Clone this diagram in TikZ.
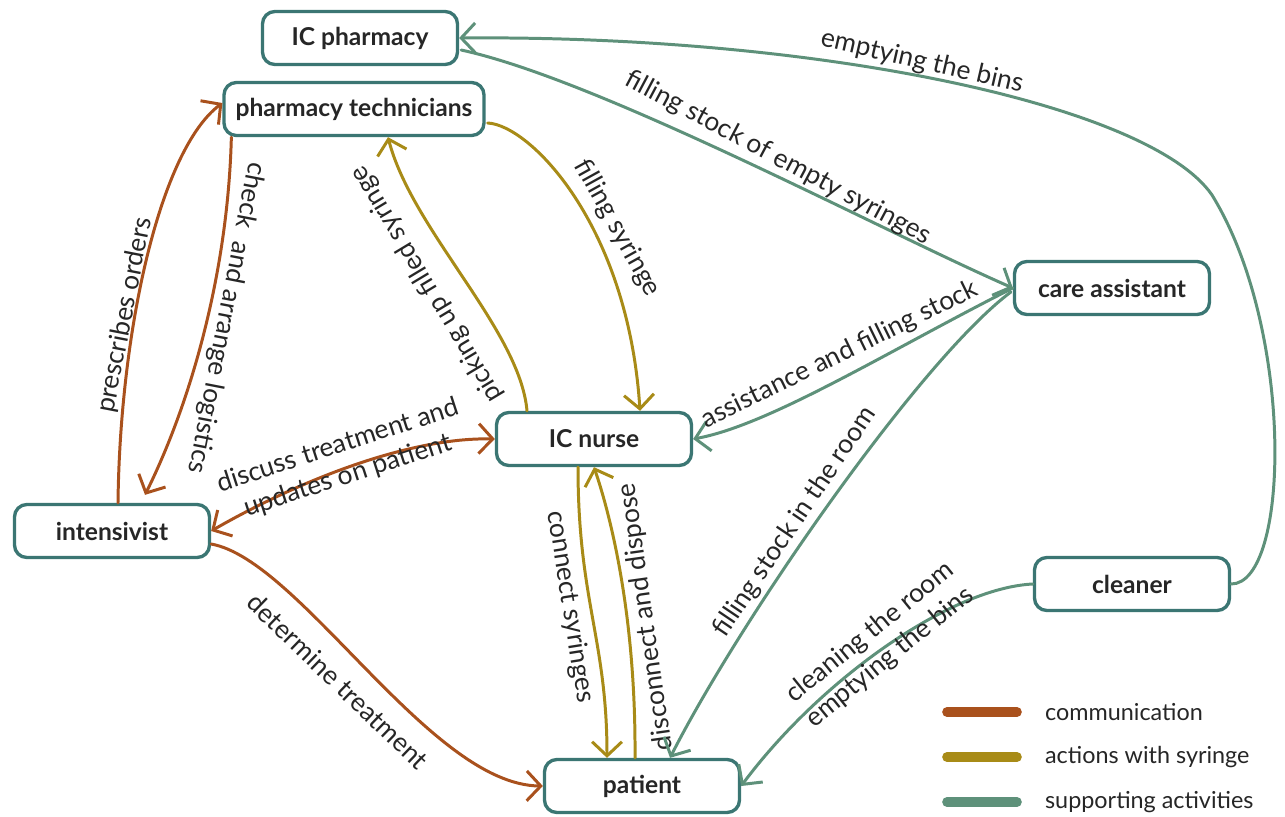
\documentclass[tikz,border=0pt]{standalone}
\usepackage{fontspec}
\setmainfont{Lato}
\usetikzlibrary{arrows.meta,calc}
\definecolor{commcol}{HTML}{A9511D}
\definecolor{syrcol}{HTML}{A88B17}
\definecolor{suppcol}{HTML}{5E917A}
\definecolor{boxcol}{HTML}{3B7673}
\definecolor{txtcol}{HTML}{262626}
\begin{document}
\begin{tikzpicture}[x=0.02cm,y=-0.02cm,
	>={Straight Barb[length=8pt,width=17pt]},
	box/.style={draw=boxcol,line width=1.9pt,rounded corners=7pt,fill=white,minimum width=3.9cm,minimum height=1.06cm,text=txtcol,font=\fontsize{14}{17}\selectfont\bfseries},
	lbl/.style={text=txtcol,inner sep=1pt,align=center,font=\fontsize{15}{18}\selectfont},
	keylbl/.style={text=txtcol,inner sep=1pt,anchor=west,font=\fontsize{13.3}{16}\selectfont},
	comm/.style={draw=commcol,line width=1.7pt,line cap=round,->},
	syr/.style={draw=syrcol,line width=1.7pt,line cap=round,->},
	supp/.style={draw=suppcol,line width=1.7pt,line cap=round,->},
	key/.style={line width=5.5pt,line cap=round}]
	\useasboundingbox (0,0) rectangle (1285,816);

	\node[box] (icph) at (360,38) {IC pharmacy};
	\node[box,minimum width=5.2cm] (tech) at (354,109) {pharmacy technicians};
	\node[box] (care) at (1112,288) {care assistant};
	\node[box] (nurse) at (594,439) {IC nurse};
	\node[box] (int) at (112,531) {intensivist};
	\node[box] (clean) at (1132,584) {cleaner};
	\node[box] (pat) at (642,786) {patient};

	\draw[comm] ($(int.north)+(6,0)$) .. controls (120,330) and (160,150) .. ($(tech.west)+(0,-6)$);
	\node[lbl,rotate=79] (presc) at (125,315) {prescribes orders};
	\draw[comm] ($(tech.south west)+(9,0)$) .. controls (228,270) and (192,400) .. ($(int.north)+(33,-8)$);
	\node[lbl,rotate=-101] (check) at (226,318) {check~ and arrange logistics};
	\draw[comm,<->] (int.east) .. controls (300,480) and (410,437) .. (nurse.west);
	\node[lbl,rotate=18] (discuss) at (343,461) {discuss treatment and\\updates on patient};
	\draw[comm] ($(int.east)+(0,13)$) .. controls (300,560) and (430,785) .. (pat.west);
	\node[lbl,rotate=-44] (determ) at (338,681) {determine treatment};

	\draw[syr] ($(tech.east)+(2,14)$) .. controls (530,125) and (628,225) .. ($(nurse.north)+(46,0)$);
	\node[lbl,rotate=-61] (fill) at (617,228) {filling syringe};
	\draw[syr] ($(nurse.north)+(-67,0)$) .. controls (520,330) and (412,230) .. ($(tech.south)+(34,0)$);
	\node[lbl,rotate=121] (pick) at (427,284) {picking up filled syringe};
	\draw[syr] ($(nurse.south)+(-16,0)$) .. controls (578,600) and (607,640) .. ($(pat.north)+(-35,0)$);
	\node[lbl,rotate=-81] (conn) at (570,607) {connect syringes};
	\draw[syr] ($(pat.north)+(-7,0)$) .. controls (636,620) and (612,520) .. (nurse.south);
	\node[lbl,rotate=98] (disc) at (646,617) {disconnect and dispose};

	\draw[supp] (care.west) .. controls (890,350) and (770,425) .. (nurse.east);
	\node[lbl,rotate=26] (assist) at (840,355) {assistance and filling stock};
	\draw[supp] ($(icph.east)+(2,12)$) .. controls (600,80) and (880,230) .. (care.west);
	\node[lbl,rotate=-28] (stock) at (778,158) {filling stock of empty syringes};
	\draw[supp] ($(care.west)+(-2,4)$) .. controls (920,360) and (740,620) .. ($(pat.north)+(28,0)$);
	\node[lbl,rotate=56] (room) at (795,522) {filling stock in the room};
	\draw[supp] (clean.east) .. controls (1290,584) and (1295,330) .. (1212,195) .. controls (1150,105) and (820,35) .. (icph.east);
	\node[lbl,rotate=-13] (bins) at (922,62) {emptying the bins};
	\draw[supp] (clean.west) .. controls (950,588) and (820,680) .. (pat.east);
	\node[lbl,rotate=39] (cleanlbl) at (880,645) {cleaning the room\\emptying the bins};

	\coordinate (k1a) at (947,712);
	\coordinate (k1b) at (1017,712);
	\coordinate (k2a) at (947,757);
	\coordinate (k2b) at (1017,757);
	\coordinate (k3a) at (947,802);
	\coordinate (k3b) at (1017,802);
	\draw[key,commcol] (k1a) -- (k1b);
	\draw[key,syrcol] (k2a) -- (k2b);
	\draw[key,suppcol] (k3a) -- (k3b);
	\node[keylbl] (k1) at (1043,712) {communication};
	\node[keylbl] (k2) at (1043,757) {actions with syringe};
	\node[keylbl] (k3) at (1043,802) {supporting activities};
\end{tikzpicture}
\end{document}
